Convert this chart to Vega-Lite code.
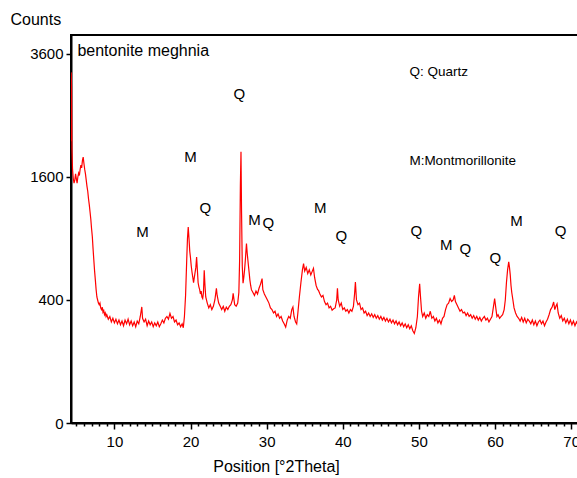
{
  "$schema": "https://vega.github.io/schema/vega-lite/v6.json",
  "width": 507,
  "height": 388,
  "autosize": {"type": "none"},
  "padding": {"left": 71, "top": 35, "right": 0, "bottom": 55},
  "background": "white",
  "config": {
    "view": {"stroke": "black", "strokeWidth": 2},
    "font": "Liberation Sans",
    "axis": {
      "domainColor": "black", "domainWidth": 2, "tickColor": "black", "tickWidth": 1.5,
      "labelColor": "black", "titleColor": "black", "grid": false,
      "labelFont": "Liberation Sans", "titleFont": "Liberation Sans",
      "labelFontWeight": "normal", "titleFontWeight": "normal"
    }
  },
  "datasets": {
    "xrd": [
      {"t":4.31,"c":2100},{"t":4.33,"c":3250},{"t":4.37,"c":3000},{"t":4.42,"c":2000},{"t":4.5,"c":1700},{"t":4.6,"c":1580},{"t":4.7,"c":1520},{"t":4.8,"c":1560},{"t":4.9,"c":1640},{"t":5.0,"c":1580},{"t":5.1,"c":1520},{"t":5.2,"c":1600},{"t":5.3,"c":1650},{"t":5.4,"c":1620},{"t":5.5,"c":1700},{"t":5.6,"c":1760},{"t":5.7,"c":1720},{"t":5.8,"c":1820},{"t":5.9,"c":1870},{"t":6.0,"c":1780},{"t":6.1,"c":1700},{"t":6.2,"c":1640},{"t":6.3,"c":1560},{"t":6.4,"c":1480},{"t":6.5,"c":1420},{"t":6.6,"c":1330},{"t":6.7,"c":1260},{"t":6.8,"c":1180},{"t":6.9,"c":1100},{"t":7.0,"c":1000},{"t":7.1,"c":920},{"t":7.2,"c":800},{"t":7.3,"c":700},{"t":7.4,"c":610},{"t":7.5,"c":540},{"t":7.6,"c":470},{"t":7.7,"c":420},{"t":7.8,"c":400},{"t":7.9,"c":380},{"t":8.0,"c":370},{"t":8.1,"c":380},{"t":8.2,"c":350},{"t":8.3,"c":340},{"t":8.4,"c":355},{"t":8.5,"c":325},{"t":8.6,"c":335},{"t":8.7,"c":310},{"t":8.8,"c":320},{"t":8.9,"c":300},{"t":9.0,"c":310},{"t":9.2,"c":285},{"t":9.4,"c":300},{"t":9.6,"c":270},{"t":9.8,"c":290},{"t":10.0,"c":265},{"t":10.2,"c":285},{"t":10.4,"c":260},{"t":10.6,"c":280},{"t":10.8,"c":255},{"t":11.0,"c":275},{"t":11.2,"c":250},{"t":11.4,"c":280},{"t":11.6,"c":260},{"t":11.8,"c":285},{"t":12.0,"c":255},{"t":12.2,"c":275},{"t":12.4,"c":250},{"t":12.6,"c":270},{"t":12.8,"c":245},{"t":13.0,"c":275},{"t":13.2,"c":260},{"t":13.4,"c":300},{"t":13.6,"c":356},{"t":13.7,"c":290},{"t":13.9,"c":270},{"t":14.1,"c":285},{"t":14.3,"c":250},{"t":14.5,"c":275},{"t":14.7,"c":255},{"t":14.9,"c":270},{"t":15.1,"c":245},{"t":15.3,"c":265},{"t":15.5,"c":250},{"t":15.7,"c":270},{"t":15.9,"c":245},{"t":16.1,"c":260},{"t":16.3,"c":280},{"t":16.5,"c":265},{"t":16.7,"c":290},{"t":16.9,"c":300},{"t":17.1,"c":285},{"t":17.3,"c":318},{"t":17.5,"c":290},{"t":17.7,"c":300},{"t":17.9,"c":270},{"t":18.1,"c":280},{"t":18.3,"c":255},{"t":18.5,"c":265},{"t":18.7,"c":245},{"t":18.9,"c":260},{"t":19.05,"c":240},{"t":19.2,"c":300},{"t":19.35,"c":430},{"t":19.5,"c":700},{"t":19.6,"c":900},{"t":19.7,"c":1016},{"t":19.8,"c":900},{"t":19.9,"c":780},{"t":20.0,"c":720},{"t":20.1,"c":650},{"t":20.2,"c":600},{"t":20.3,"c":560},{"t":20.4,"c":520},{"t":20.5,"c":560},{"t":20.6,"c":600},{"t":20.7,"c":640},{"t":20.8,"c":729},{"t":20.9,"c":620},{"t":21.0,"c":520},{"t":21.1,"c":490},{"t":21.2,"c":470},{"t":21.3,"c":440},{"t":21.4,"c":460},{"t":21.5,"c":420},{"t":21.6,"c":410},{"t":21.7,"c":450},{"t":21.8,"c":617},{"t":21.9,"c":500},{"t":22.0,"c":420},{"t":22.2,"c":380},{"t":22.4,"c":350},{"t":22.6,"c":370},{"t":22.8,"c":340},{"t":23.0,"c":360},{"t":23.2,"c":400},{"t":23.4,"c":480},{"t":23.5,"c":430},{"t":23.7,"c":380},{"t":23.9,"c":360},{"t":24.1,"c":340},{"t":24.3,"c":360},{"t":24.5,"c":330},{"t":24.7,"c":355},{"t":24.9,"c":340},{"t":25.1,"c":360},{"t":25.3,"c":370},{"t":25.5,"c":400},{"t":25.6,"c":444},{"t":25.8,"c":370},{"t":26.0,"c":360},{"t":26.2,"c":380},{"t":26.35,"c":450},{"t":26.45,"c":700},{"t":26.55,"c":1500},{"t":26.63,"c":1944},{"t":26.7,"c":1200},{"t":26.8,"c":650},{"t":26.9,"c":516},{"t":27.0,"c":560},{"t":27.1,"c":620},{"t":27.2,"c":700},{"t":27.3,"c":800},{"t":27.35,"c":851},{"t":27.45,"c":760},{"t":27.6,"c":660},{"t":27.7,"c":600},{"t":27.8,"c":540},{"t":27.9,"c":500},{"t":28.0,"c":470},{"t":28.2,"c":450},{"t":28.4,"c":430},{"t":28.6,"c":460},{"t":28.8,"c":440},{"t":29.0,"c":480},{"t":29.2,"c":510},{"t":29.4,"c":551},{"t":29.5,"c":470},{"t":29.7,"c":440},{"t":29.9,"c":420},{"t":30.1,"c":400},{"t":30.3,"c":380},{"t":30.5,"c":350},{"t":30.7,"c":340},{"t":30.9,"c":320},{"t":31.1,"c":330},{"t":31.3,"c":300},{"t":31.5,"c":315},{"t":31.7,"c":290},{"t":31.9,"c":300},{"t":32.1,"c":275},{"t":32.3,"c":260},{"t":32.5,"c":243},{"t":32.7,"c":280},{"t":32.9,"c":300},{"t":33.1,"c":290},{"t":33.3,"c":340},{"t":33.45,"c":356},{"t":33.6,"c":300},{"t":33.8,"c":270},{"t":33.95,"c":260},{"t":34.1,"c":320},{"t":34.3,"c":420},{"t":34.5,"c":520},{"t":34.7,"c":620},{"t":34.85,"c":672},{"t":35.0,"c":610},{"t":35.2,"c":640},{"t":35.4,"c":590},{"t":35.6,"c":620},{"t":35.8,"c":580},{"t":36.0,"c":610},{"t":36.15,"c":633},{"t":36.3,"c":560},{"t":36.5,"c":500},{"t":36.7,"c":470},{"t":36.8,"c":466},{"t":37.0,"c":440},{"t":37.2,"c":420},{"t":37.4,"c":430},{"t":37.6,"c":390},{"t":37.8,"c":370},{"t":38.0,"c":380},{"t":38.2,"c":350},{"t":38.4,"c":360},{"t":38.6,"c":336},{"t":38.8,"c":345},{"t":39.0,"c":350},{"t":39.2,"c":400},{"t":39.3,"c":480},{"t":39.4,"c":400},{"t":39.6,"c":360},{"t":39.8,"c":380},{"t":40.0,"c":340},{"t":40.2,"c":350},{"t":40.4,"c":330},{"t":40.6,"c":340},{"t":40.8,"c":320},{"t":41.0,"c":340},{"t":41.2,"c":330},{"t":41.4,"c":360},{"t":41.55,"c":440},{"t":41.66,"c":526},{"t":41.8,"c":400},{"t":42.0,"c":370},{"t":42.2,"c":380},{"t":42.4,"c":340},{"t":42.6,"c":350},{"t":42.8,"c":320},{"t":43.0,"c":330},{"t":43.2,"c":305},{"t":43.4,"c":320},{"t":43.6,"c":300},{"t":43.8,"c":315},{"t":44.0,"c":295},{"t":44.2,"c":310},{"t":44.4,"c":290},{"t":44.6,"c":305},{"t":44.8,"c":285},{"t":45.0,"c":300},{"t":45.2,"c":280},{"t":45.4,"c":295},{"t":45.6,"c":275},{"t":45.8,"c":290},{"t":46.0,"c":270},{"t":46.2,"c":285},{"t":46.4,"c":265},{"t":46.6,"c":280},{"t":46.8,"c":260},{"t":47.0,"c":275},{"t":47.2,"c":255},{"t":47.4,"c":270},{"t":47.6,"c":250},{"t":47.8,"c":265},{"t":48.0,"c":245},{"t":48.2,"c":260},{"t":48.4,"c":240},{"t":48.6,"c":255},{"t":48.8,"c":235},{"t":49.0,"c":250},{"t":49.2,"c":225},{"t":49.4,"c":212},{"t":49.6,"c":240},{"t":49.8,"c":300},{"t":49.95,"c":420},{"t":50.1,"c":513},{"t":50.2,"c":430},{"t":50.35,"c":330},{"t":50.5,"c":300},{"t":50.7,"c":320},{"t":50.9,"c":290},{"t":51.1,"c":310},{"t":51.3,"c":300},{"t":51.5,"c":330},{"t":51.7,"c":290},{"t":51.9,"c":300},{"t":52.1,"c":275},{"t":52.3,"c":290},{"t":52.5,"c":265},{"t":52.7,"c":280},{"t":52.9,"c":260},{"t":53.1,"c":290},{"t":53.3,"c":300},{"t":53.5,"c":340},{"t":53.7,"c":370},{"t":53.9,"c":380},{"t":54.1,"c":410},{"t":54.3,"c":390},{"t":54.5,"c":400},{"t":54.66,"c":431},{"t":54.8,"c":390},{"t":55.0,"c":370},{"t":55.2,"c":350},{"t":55.4,"c":330},{"t":55.6,"c":340},{"t":55.8,"c":320},{"t":56.0,"c":325},{"t":56.2,"c":305},{"t":56.4,"c":320},{"t":56.6,"c":300},{"t":56.8,"c":310},{"t":57.0,"c":290},{"t":57.2,"c":305},{"t":57.4,"c":285},{"t":57.6,"c":300},{"t":57.8,"c":280},{"t":58.0,"c":295},{"t":58.2,"c":275},{"t":58.4,"c":290},{"t":58.6,"c":300},{"t":58.8,"c":280},{"t":59.0,"c":290},{"t":59.2,"c":270},{"t":59.4,"c":285},{"t":59.6,"c":300},{"t":59.8,"c":360},{"t":59.95,"c":409},{"t":60.1,"c":350},{"t":60.25,"c":300},{"t":60.4,"c":310},{"t":60.6,"c":290},{"t":60.8,"c":300},{"t":61.0,"c":310},{"t":61.2,"c":340},{"t":61.35,"c":400},{"t":61.5,"c":520},{"t":61.65,"c":620},{"t":61.8,"c":686},{"t":61.9,"c":640},{"t":62.0,"c":580},{"t":62.1,"c":500},{"t":62.2,"c":450},{"t":62.35,"c":400},{"t":62.5,"c":350},{"t":62.7,"c":320},{"t":62.9,"c":300},{"t":63.1,"c":290},{"t":63.3,"c":275},{"t":63.5,"c":295},{"t":63.7,"c":270},{"t":63.9,"c":290},{"t":64.1,"c":265},{"t":64.3,"c":285},{"t":64.5,"c":275},{"t":64.7,"c":260},{"t":64.9,"c":280},{"t":65.1,"c":255},{"t":65.3,"c":275},{"t":65.5,"c":250},{"t":65.7,"c":270},{"t":65.9,"c":280},{"t":66.1,"c":260},{"t":66.3,"c":275},{"t":66.5,"c":250},{"t":66.7,"c":270},{"t":66.9,"c":285},{"t":67.1,"c":310},{"t":67.3,"c":340},{"t":67.5,"c":355},{"t":67.7,"c":387},{"t":67.85,"c":340},{"t":68.0,"c":360},{"t":68.15,"c":375},{"t":68.3,"c":320},{"t":68.5,"c":290},{"t":68.7,"c":305},{"t":68.9,"c":275},{"t":69.1,"c":290},{"t":69.3,"c":265},{"t":69.5,"c":285},{"t":69.7,"c":260},{"t":69.9,"c":280},{"t":70.1,"c":255},{"t":70.3,"c":275},{"t":70.5,"c":250},{"t":70.7,"c":270},{"t":70.9,"c":255}
    ],
    "peaks": [
      {"t":13.68,"c":963,"label":"M"},
      {"t":20.01,"c":1870,"label":"M"},
      {"t":21.95,"c":1220,"label":"Q"},
      {"t":26.42,"c":2862,"label":"Q"},
      {"t":28.39,"c":1088,"label":"M"},
      {"t":30.23,"c":1056,"label":"Q"},
      {"t":37.05,"c":1220,"label":"M"},
      {"t":39.81,"c":922,"label":"Q"},
      {"t":49.66,"c":973,"label":"Q"},
      {"t":53.6,"c":836,"label":"M"},
      {"t":56.11,"c":798,"label":"Q"},
      {"t":60.05,"c":718,"label":"Q"},
      {"t":62.81,"c":1077,"label":"M"},
      {"t":68.6,"c":973,"label":"Q"}
    ],
    "legend": [
      {"t":48.75,"c":3258,"label":"Q: Quartz"},
      {"t":48.75,"c":1814,"label":"M:Montmorillonite"}
    ],
    "sample": [
      {"t":5.14,"c":3661,"label":"bentonite meghnia"}
    ]
  },
  "layer": [
    {
      "data": {"name": "xrd"},
      "mark": {"type": "line", "color": "#ff0000", "strokeWidth": 1.2, "clip": true},
      "encoding": {
        "x": {
          "field": "t", "type": "quantitative",
          "scale": {"domain": [4.3, 70.9], "nice": false, "zero": false},
          "axis": {
            "values": [5,6,7,8,9,10,11,12,13,14,15,16,17,18,19,20,21,22,23,24,25,26,27,28,29,30,31,32,33,34,35,36,37,38,39,40,41,42,43,44,45,46,47,48,49,50,51,52,53,54,55,56,57,58,59,60,61,62,63,64,65,66,67,68,69,70],
            "tickCount": 200, "format": "d",
            "labelExpr": "datum.value % 10 === 0 ? datum.label : ''",
            "labelOverlap": false, "labelFlush": false,
            "tickSize": {"condition": {"test": "datum.value % 10 === 0", "value": 6}, "value": 3},
            "labelFontSize": 15, "labelPadding": 5,
            "title": "Position [°2Theta]", "titleFontSize": 16,
            "titleX": 205, "titleY": 35, "titleAlign": "center", "titleBaseline": "top"
          }
        },
        "y": {
          "field": "c", "type": "quantitative",
          "scale": {"type": "sqrt", "domain": [0, 3980], "nice": false, "zero": true},
          "axis": {
            "values": [0, 400, 1600, 3600], "format": "d",
            "tickSize": 5, "labelFontSize": 15, "labelPadding": 3,
            "title": "Counts", "titleFontSize": 16, "titleAngle": 0,
            "titleAlign": "left", "titleBaseline": "middle", "titleX": -61, "titleY": -16
          }
        }
      }
    },
    {
      "data": {"name": "peaks"},
      "mark": {"type": "text", "font": "Liberation Sans", "fontSize": 15, "align": "center", "baseline": "middle", "color": "black"},
      "encoding": {
        "x": {"field": "t", "type": "quantitative"},
        "y": {"field": "c", "type": "quantitative"},
        "text": {"field": "label"}
      }
    },
    {
      "data": {"name": "legend"},
      "mark": {"type": "text", "font": "Liberation Sans", "fontSize": 13.5, "align": "left", "baseline": "middle", "color": "black"},
      "encoding": {
        "x": {"field": "t", "type": "quantitative"},
        "y": {"field": "c", "type": "quantitative"},
        "text": {"field": "label"}
      }
    },
    {
      "data": {"name": "sample"},
      "mark": {"type": "text", "font": "Liberation Sans", "fontSize": 16, "align": "left", "baseline": "middle", "color": "black"},
      "encoding": {
        "x": {"field": "t", "type": "quantitative"},
        "y": {"field": "c", "type": "quantitative"},
        "text": {"field": "label"}
      }
    }
  ]
}
